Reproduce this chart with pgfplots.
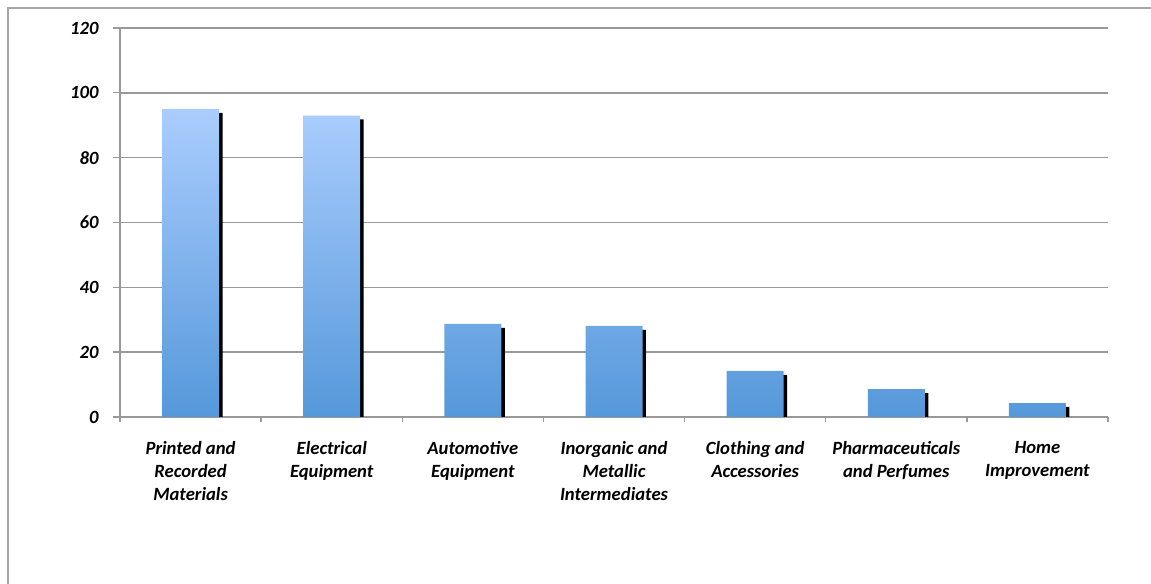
\documentclass[border=0pt]{standalone}
\usepackage{pgfplots}
\pgfplotsset{compat=1.18}
\usepackage{fontspec}
\setmainfont{Carlito}
\definecolor{gridgray}{HTML}{999999}
\definecolor{framegray}{HTML}{A6A6A6}
\definecolor{bartop}{HTML}{AACDFE}
\definecolor{barbot}{HTML}{5598DA}
\begin{document}
\begin{tikzpicture}
\path[use as bounding box] (0,0) rectangle (863.25pt,438pt);
\draw[framegray, line width=1.2pt] (6pt,-2pt) -- (6pt,432pt) -- (866pt,432pt);
\begin{axis}[
  at={(90pt,125.25pt)}, anchor=south west,
  scale only axis, width=741pt, height=291.75pt,
  xmin=-0.5, xmax=6.5, ymin=0, ymax=120,
  ytick={0,20,...,120},
  xtick={0,...,6},
  xticklabels={Printed and\\Recorded\\Materials, Electrical\\Equipment, Automotive\\Equipment, Inorganic and\\Metallic\\Intermediates, Clothing and\\Accessories, Pharmaceuticals\\and Perfumes, Home\\Improvement},
  minor xtick={-0.5,0.5,...,6.5},
  major x tick style={draw=none},
  minor x tick style={gridgray, line width=1pt},
  y tick style={gridgray, line width=1pt},
  tick align=outside,
  major tick length=5.5pt,
  minor tick length=4pt,
  ymajorgrids,
  grid style={gridgray, line width=1.1pt},
  axis x line*=bottom, axis y line*=left,
  axis line style={gridgray, line width=1.2pt, -},
  /pgf/number format/assume math mode=true,
  ticklabel style={font=\fontsize{14pt}{17.2pt}\selectfont\bfseries\itshape},
  xticklabel style={align=center, yshift=-9pt},
  yticklabel style={xshift=-7pt},
  ybar, bar width=42.75pt,
  clip=false,
]
\addplot[fill=black, draw=none, bar shift=2.6pt] coordinates {(0,93.8) (1,91.8) (2,27.5) (3,26.9) (4,13.0) (5,7.4) (6,3.1)};
\addplot[draw=none, top color=bartop, bottom color=barbot, bar shift=0pt] coordinates {(0,95) (1,93) (2,28.7) (3,28.1) (4,14.2) (5,8.6) (6,4.3)};
\end{axis}
\end{tikzpicture}
\end{document}
